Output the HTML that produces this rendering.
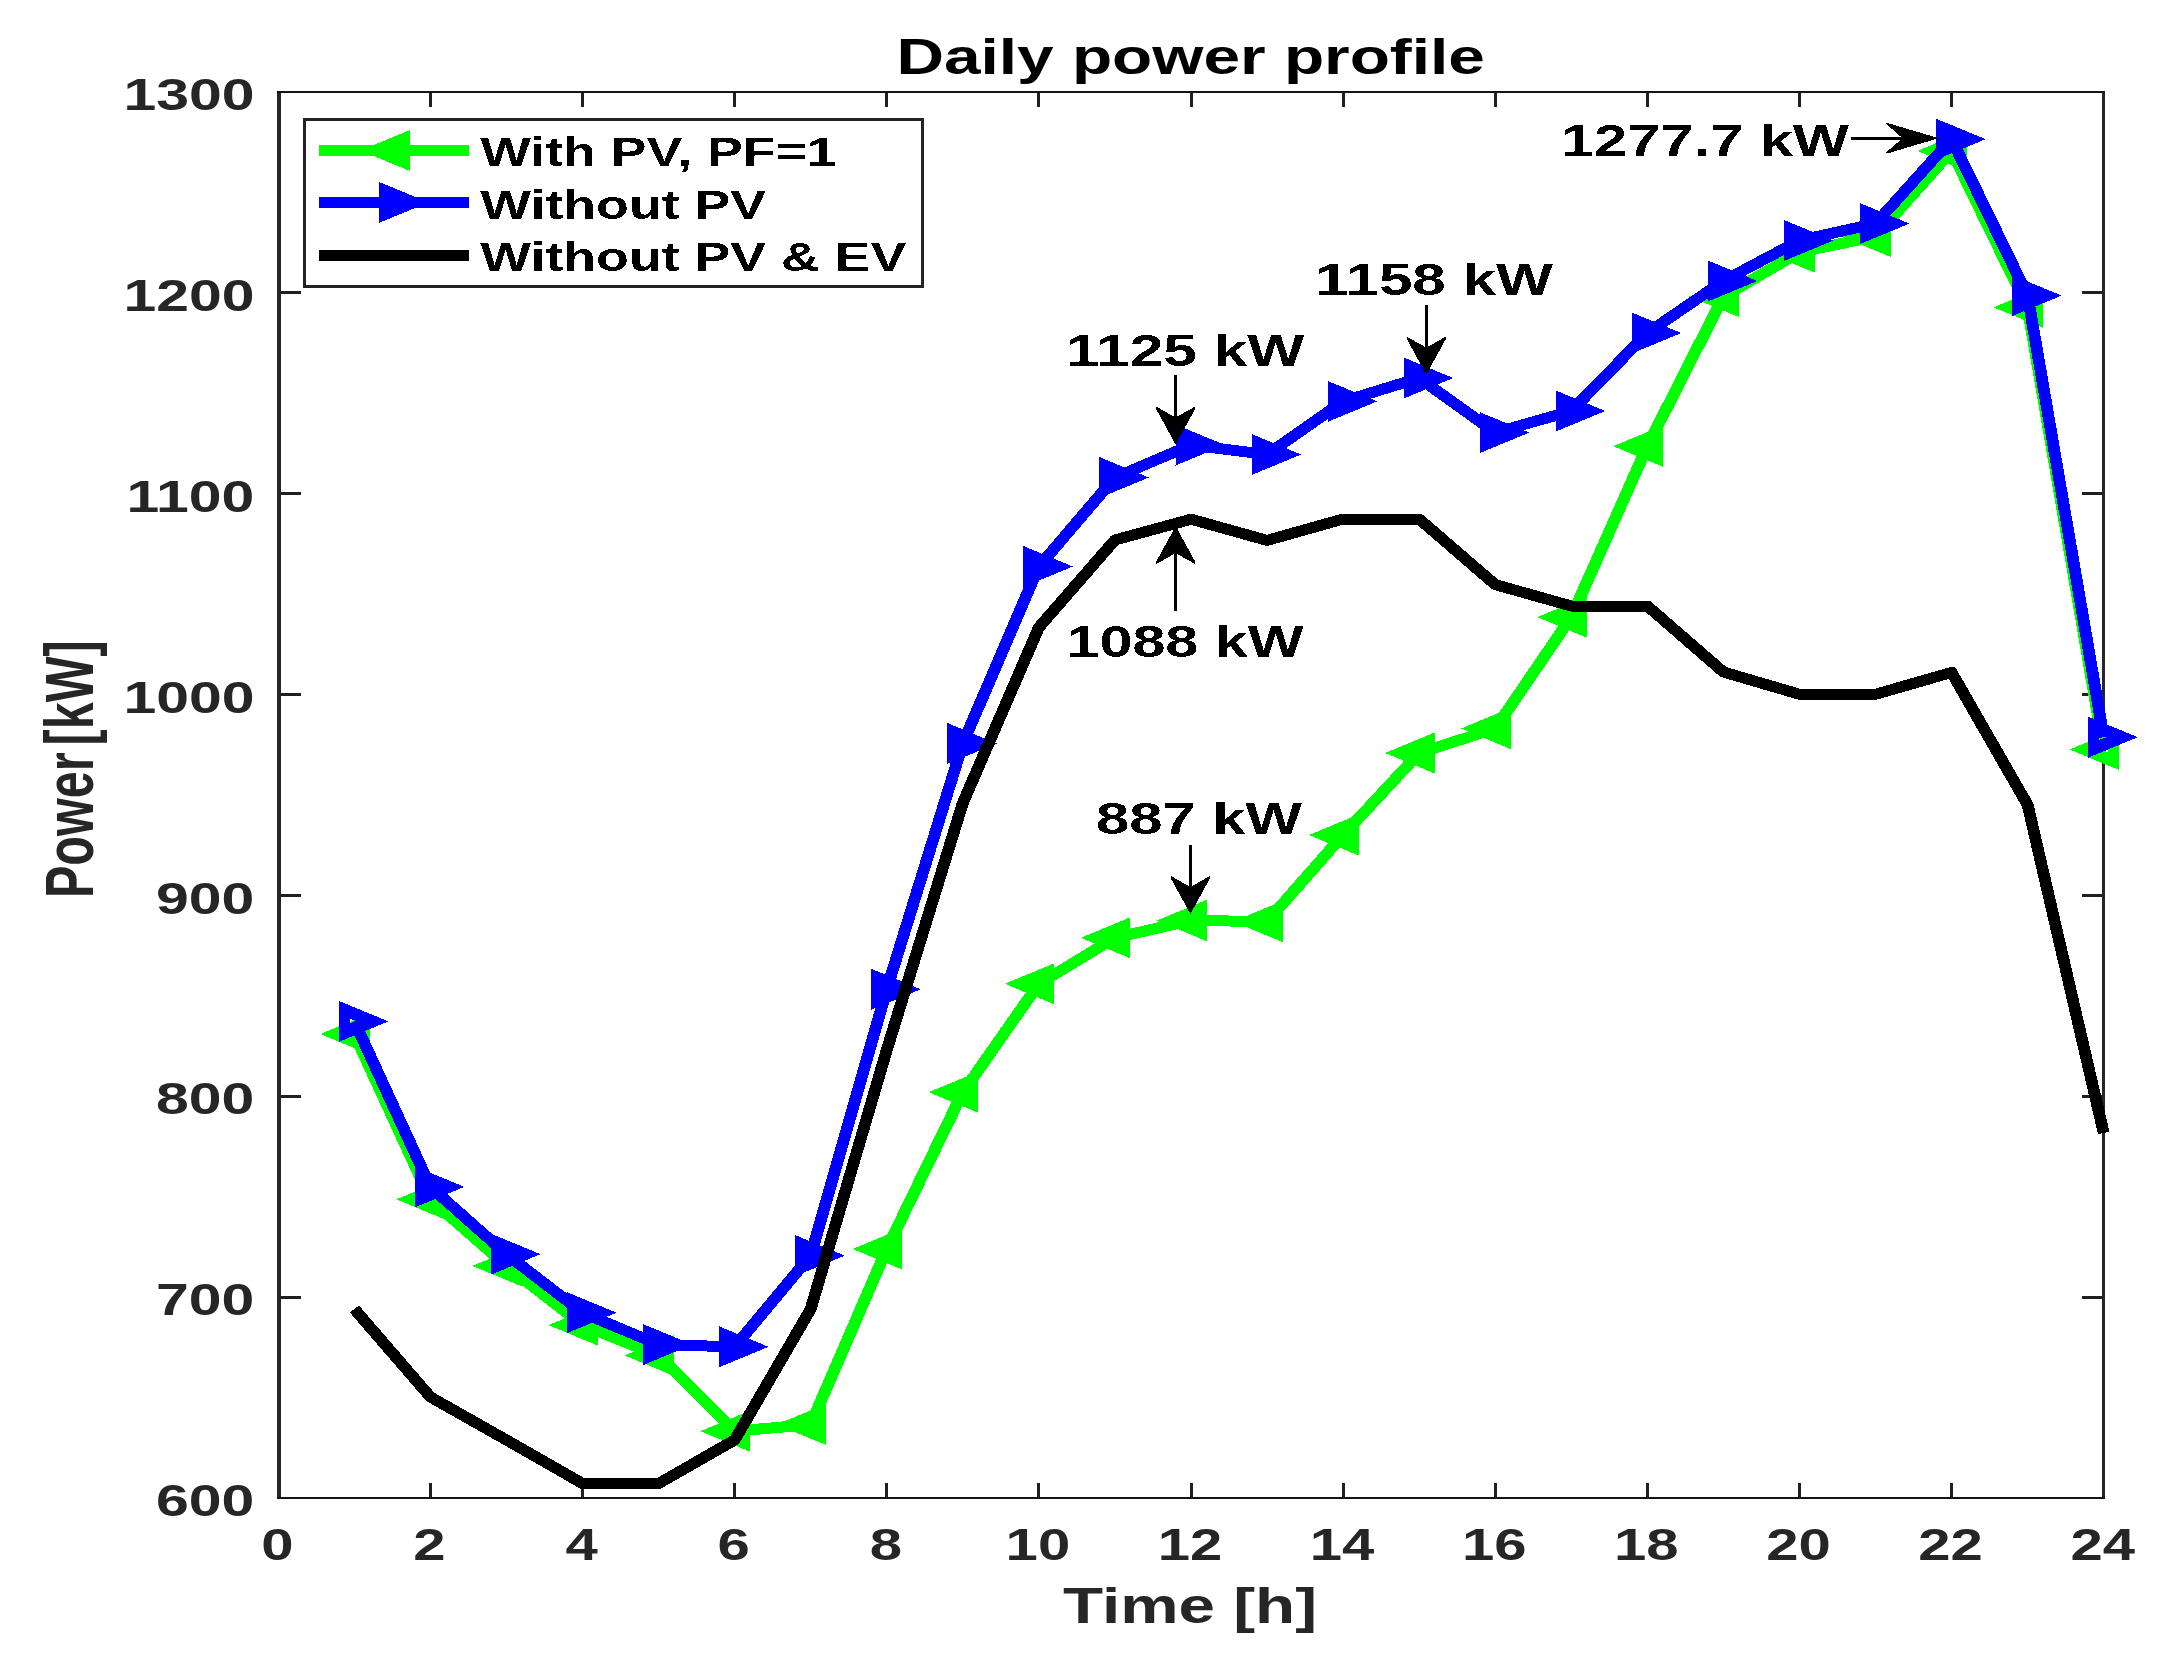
<!DOCTYPE html>
<html lang="en"><head><meta charset="utf-8"><title>Daily power profile</title>
<style>html,body{margin:0;padding:0;background:#fff}svg{display:block}</style></head>
<body>
<svg width="2173" height="1665" viewBox="0 0 2173 1665">
<defs><filter id="hard" x="-5%" y="-20%" width="110%" height="140%"><feComponentTransfer><feFuncA type="discrete" tableValues="0 1"/></feComponentTransfer></filter></defs>
<rect width="2173" height="1665" fill="#fff"/>
<g shape-rendering="crispEdges">
<rect x="277" y="91" width="4" height="1408" fill="#262626"/>
<rect x="2102" y="91" width="3" height="1408" fill="#262626"/>
<rect x="277" y="91" width="1828" height="2" fill="#141414"/>
<rect x="277" y="1497" width="1828" height="2" fill="#141414"/>
<rect x="429" y="1483" width="3" height="14" fill="#202020"/>
<rect x="429" y="93" width="3" height="14" fill="#202020"/>
<rect x="581" y="1483" width="3" height="14" fill="#202020"/>
<rect x="581" y="93" width="3" height="14" fill="#202020"/>
<rect x="733" y="1483" width="3" height="14" fill="#202020"/>
<rect x="733" y="93" width="3" height="14" fill="#202020"/>
<rect x="885" y="1483" width="3" height="14" fill="#202020"/>
<rect x="885" y="93" width="3" height="14" fill="#202020"/>
<rect x="1037" y="1483" width="3" height="14" fill="#202020"/>
<rect x="1037" y="93" width="3" height="14" fill="#202020"/>
<rect x="1190" y="1483" width="3" height="14" fill="#202020"/>
<rect x="1190" y="93" width="3" height="14" fill="#202020"/>
<rect x="1342" y="1483" width="3" height="14" fill="#202020"/>
<rect x="1342" y="93" width="3" height="14" fill="#202020"/>
<rect x="1494" y="1483" width="3" height="14" fill="#202020"/>
<rect x="1494" y="93" width="3" height="14" fill="#202020"/>
<rect x="1646" y="1483" width="3" height="14" fill="#202020"/>
<rect x="1646" y="93" width="3" height="14" fill="#202020"/>
<rect x="1798" y="1483" width="3" height="14" fill="#202020"/>
<rect x="1798" y="93" width="3" height="14" fill="#202020"/>
<rect x="1950" y="1483" width="3" height="14" fill="#202020"/>
<rect x="1950" y="93" width="3" height="14" fill="#202020"/>
<rect x="281" y="1296" width="20" height="3" fill="#202020"/>
<rect x="2082" y="1296" width="20" height="3" fill="#202020"/>
<rect x="281" y="1095" width="20" height="3" fill="#202020"/>
<rect x="2082" y="1095" width="20" height="3" fill="#202020"/>
<rect x="281" y="894" width="20" height="3" fill="#202020"/>
<rect x="2082" y="894" width="20" height="3" fill="#202020"/>
<rect x="281" y="693" width="20" height="3" fill="#202020"/>
<rect x="2082" y="693" width="20" height="3" fill="#202020"/>
<rect x="281" y="492" width="20" height="3" fill="#202020"/>
<rect x="2082" y="492" width="20" height="3" fill="#202020"/>
<rect x="281" y="291" width="20" height="3" fill="#202020"/>
<rect x="2082" y="291" width="20" height="3" fill="#202020"/>
</g>
<text transform="translate(261.16,1559.80) scale(1.2900,1)" font-family="Liberation Sans, Arial, Helvetica, sans-serif" font-weight="bold" font-size="45.0" fill="#262626">0</text>
<text transform="translate(413.28,1559.80) scale(1.2900,1)" font-family="Liberation Sans, Arial, Helvetica, sans-serif" font-weight="bold" font-size="45.0" fill="#262626">2</text>
<text transform="translate(565.40,1559.80) scale(1.2900,1)" font-family="Liberation Sans, Arial, Helvetica, sans-serif" font-weight="bold" font-size="45.0" fill="#262626">4</text>
<text transform="translate(717.51,1559.80) scale(1.2900,1)" font-family="Liberation Sans, Arial, Helvetica, sans-serif" font-weight="bold" font-size="45.0" fill="#262626">6</text>
<text transform="translate(869.63,1559.80) scale(1.2900,1)" font-family="Liberation Sans, Arial, Helvetica, sans-serif" font-weight="bold" font-size="45.0" fill="#262626">8</text>
<text transform="translate(1005.61,1559.80) scale(1.2900,1)" font-family="Liberation Sans, Arial, Helvetica, sans-serif" font-weight="bold" font-size="45.0" fill="#262626">10</text>
<text transform="translate(1157.72,1559.80) scale(1.2900,1)" font-family="Liberation Sans, Arial, Helvetica, sans-serif" font-weight="bold" font-size="45.0" fill="#262626">12</text>
<text transform="translate(1309.84,1559.80) scale(1.2900,1)" font-family="Liberation Sans, Arial, Helvetica, sans-serif" font-weight="bold" font-size="45.0" fill="#262626">14</text>
<text transform="translate(1461.96,1559.80) scale(1.2900,1)" font-family="Liberation Sans, Arial, Helvetica, sans-serif" font-weight="bold" font-size="45.0" fill="#262626">16</text>
<text transform="translate(1614.07,1559.80) scale(1.2900,1)" font-family="Liberation Sans, Arial, Helvetica, sans-serif" font-weight="bold" font-size="45.0" fill="#262626">18</text>
<text transform="translate(1766.19,1559.80) scale(1.2900,1)" font-family="Liberation Sans, Arial, Helvetica, sans-serif" font-weight="bold" font-size="45.0" fill="#262626">20</text>
<text transform="translate(1918.31,1559.80) scale(1.2900,1)" font-family="Liberation Sans, Arial, Helvetica, sans-serif" font-weight="bold" font-size="45.0" fill="#262626">22</text>
<text transform="translate(2070.42,1559.80) scale(1.2900,1)" font-family="Liberation Sans, Arial, Helvetica, sans-serif" font-weight="bold" font-size="45.0" fill="#262626">24</text>
<text transform="translate(155.91,1516.10) scale(1.3100,1)" font-family="Liberation Sans, Arial, Helvetica, sans-serif" font-weight="bold" font-size="45.0" fill="#262626">600</text>
<text transform="translate(155.91,1315.29) scale(1.3100,1)" font-family="Liberation Sans, Arial, Helvetica, sans-serif" font-weight="bold" font-size="45.0" fill="#262626">700</text>
<text transform="translate(155.91,1114.47) scale(1.3100,1)" font-family="Liberation Sans, Arial, Helvetica, sans-serif" font-weight="bold" font-size="45.0" fill="#262626">800</text>
<text transform="translate(155.91,913.66) scale(1.3100,1)" font-family="Liberation Sans, Arial, Helvetica, sans-serif" font-weight="bold" font-size="45.0" fill="#262626">900</text>
<text transform="translate(123.49,712.84) scale(1.3100,1)" font-family="Liberation Sans, Arial, Helvetica, sans-serif" font-weight="bold" font-size="45.0" fill="#262626">1000</text>
<text transform="translate(126.44,512.03) scale(1.3100,1)" font-family="Liberation Sans, Arial, Helvetica, sans-serif" font-weight="bold" font-size="45.0" fill="#262626">1100</text>
<text transform="translate(123.49,311.21) scale(1.3100,1)" font-family="Liberation Sans, Arial, Helvetica, sans-serif" font-weight="bold" font-size="45.0" fill="#262626">1200</text>
<text transform="translate(123.49,110.40) scale(1.3100,1)" font-family="Liberation Sans, Arial, Helvetica, sans-serif" font-weight="bold" font-size="45.0" fill="#262626">1300</text>
<text transform="translate(896.39,73.80) scale(1.3082,1)" font-family="Liberation Sans, Arial, Helvetica, sans-serif" font-weight="bold" font-size="50.3" fill="#000">Daily power profile</text>
<text transform="translate(1063.04,1623.40) scale(1.3232,1)" font-family="Liberation Sans, Arial, Helvetica, sans-serif" font-weight="bold" font-size="49.6" fill="#262626">Time [h]</text>
<text transform="translate(93.20,898.00) scale(1.4300,1) rotate(-90)" font-family="Liberation Sans, Arial, Helvetica, sans-serif" font-weight="bold" font-size="48.50" word-spacing="-6.4" fill="#262626">Power [kW]</text>
<g shape-rendering="crispEdges">
<path fill-rule="evenodd" fill="#00ff00" d="M369.9,1013.5 L320.4,1034.0 L369.9,1054.5 Z M358.8,1031.4 L351.2,1034.0 L358.8,1036.6 Z"/>
<path fill-rule="evenodd" fill="#00ff00" d="M445.9,1178.8 L396.4,1199.3 L445.9,1219.8 Z M434.8,1196.7 L427.2,1199.3 L434.8,1201.9 Z"/>
<path fill-rule="evenodd" fill="#00ff00" d="M522.0,1245.4 L472.5,1265.9 L522.0,1286.4 Z M510.9,1263.3 L503.3,1265.9 L510.9,1268.5 Z"/>
<path fill-rule="evenodd" fill="#00ff00" d="M598.0,1304.6 L548.5,1325.1 L598.0,1345.6 Z M586.9,1322.5 L579.3,1325.1 L586.9,1327.7 Z"/>
<path fill-rule="evenodd" fill="#00ff00" d="M674.1,1334.9 L624.6,1355.4 L674.1,1375.9 Z M663.0,1352.8 L655.4,1355.4 L663.0,1358.0 Z"/>
<path fill-rule="evenodd" fill="#00ff00" d="M750.1,1410.7 L700.6,1431.2 L750.1,1451.7 Z M739.0,1428.6 L731.4,1431.2 L739.0,1433.8 Z"/>
<path fill-rule="evenodd" fill="#00ff00" d="M826.2,1404.0 L776.7,1424.5 L826.2,1445.0 Z M815.1,1421.9 L807.5,1424.5 L815.1,1427.1 Z"/>
<path fill-rule="evenodd" fill="#00ff00" d="M902.3,1228.5 L852.8,1249.0 L902.3,1269.5 Z M891.2,1246.4 L883.6,1249.0 L891.2,1251.6 Z"/>
<path fill-rule="evenodd" fill="#00ff00" d="M978.3,1071.7 L928.8,1092.2 L978.3,1112.7 Z M967.2,1089.6 L959.6,1092.2 L967.2,1094.8 Z"/>
<path fill-rule="evenodd" fill="#00ff00" d="M1054.4,963.3 L1004.9,983.8 L1054.4,1004.3 Z M1043.3,981.2 L1035.7,983.8 L1043.3,986.4 Z"/>
<path fill-rule="evenodd" fill="#00ff00" d="M1130.4,917.3 L1080.9,937.8 L1130.4,958.3 Z M1119.3,935.2 L1111.7,937.8 L1119.3,940.4 Z"/>
<path fill-rule="evenodd" fill="#00ff00" d="M1206.5,900.0 L1157.0,920.5 L1206.5,941.0 Z M1195.4,917.9 L1187.8,920.5 L1195.4,923.1 Z"/>
<path fill-rule="evenodd" fill="#00ff00" d="M1282.6,901.0 L1233.1,921.5 L1282.6,942.0 Z M1271.5,918.9 L1263.9,921.5 L1271.5,924.1 Z"/>
<path fill-rule="evenodd" fill="#00ff00" d="M1358.6,814.5 L1309.1,835.0 L1358.6,855.5 Z M1347.5,832.4 L1339.9,835.0 L1347.5,837.6 Z"/>
<path fill-rule="evenodd" fill="#00ff00" d="M1434.7,732.5 L1385.2,753.0 L1434.7,773.5 Z M1423.6,750.4 L1416.0,753.0 L1423.6,755.6 Z"/>
<path fill-rule="evenodd" fill="#00ff00" d="M1510.7,708.0 L1461.2,728.5 L1510.7,749.0 Z M1499.6,725.9 L1492.0,728.5 L1499.6,731.1 Z"/>
<path fill-rule="evenodd" fill="#00ff00" d="M1586.8,596.6 L1537.3,617.1 L1586.8,637.6 Z M1575.7,614.5 L1568.1,617.1 L1575.7,619.7 Z"/>
<path fill-rule="evenodd" fill="#00ff00" d="M1662.8,425.7 L1613.3,446.2 L1662.8,466.7 Z M1651.8,443.6 L1644.1,446.2 L1651.8,448.8 Z"/>
<path fill-rule="evenodd" fill="#00ff00" d="M1738.9,276.0 L1689.4,296.5 L1738.9,317.0 Z M1727.8,293.9 L1720.2,296.5 L1727.8,299.1 Z"/>
<path fill-rule="evenodd" fill="#00ff00" d="M1815.0,231.7 L1765.5,252.2 L1815.0,272.7 Z M1803.9,249.6 L1796.3,252.2 L1803.9,254.8 Z"/>
<path fill-rule="evenodd" fill="#00ff00" d="M1891.0,216.0 L1841.5,236.5 L1891.0,257.0 Z M1879.9,233.9 L1872.3,236.5 L1879.9,239.1 Z"/>
<path fill-rule="evenodd" fill="#00ff00" d="M1967.1,130.4 L1917.6,150.9 L1967.1,171.4 Z M1956.0,148.3 L1948.4,150.9 L1956.0,153.5 Z"/>
<path fill-rule="evenodd" fill="#00ff00" d="M2043.1,286.8 L1993.6,307.3 L2043.1,327.8 Z M2032.0,304.7 L2024.4,307.3 L2032.0,309.9 Z"/>
<path fill-rule="evenodd" fill="#00ff00" d="M2119.2,729.0 L2069.7,749.5 L2119.2,770.0 Z M2108.1,746.9 L2100.5,749.5 L2108.1,752.1 Z"/>
<polyline transform="scale(1.075,1)" points="329.64,1034.0 400.39,1199.3 471.14,1265.9 541.89,1325.1 612.64,1355.4 683.40,1431.2 754.15,1424.5 824.90,1249.0 895.65,1092.2 966.40,983.8 1037.16,937.8 1107.91,920.5 1178.66,921.5 1249.41,835.0 1320.16,753.0 1390.91,728.5 1461.67,617.1 1532.42,446.2 1603.17,296.5 1673.92,252.2 1744.67,236.5 1815.43,150.9 1886.18,307.3 1956.93,749.5" fill="none" stroke="#00ff00" stroke-width="11" stroke-linejoin="miter" stroke-linecap="butt"/>
<path fill-rule="evenodd" fill="#0000ff" d="M338.9,1000.9 L388.4,1021.4 L338.9,1041.9 Z M350.0,1018.8 L357.6,1021.4 L350.0,1024.0 Z"/>
<path fill-rule="evenodd" fill="#0000ff" d="M414.9,1166.4 L464.4,1186.9 L414.9,1207.4 Z M426.0,1184.3 L433.6,1186.9 L426.0,1189.5 Z"/>
<path fill-rule="evenodd" fill="#0000ff" d="M491.0,1233.7 L540.5,1254.2 L491.0,1274.7 Z M502.1,1251.6 L509.7,1254.2 L502.1,1256.8 Z"/>
<path fill-rule="evenodd" fill="#0000ff" d="M567.0,1292.2 L616.5,1312.7 L567.0,1333.2 Z M578.1,1310.1 L585.7,1312.7 L578.1,1315.3 Z"/>
<path fill-rule="evenodd" fill="#0000ff" d="M643.1,1324.1 L692.6,1344.6 L643.1,1365.1 Z M654.2,1342.0 L661.8,1344.6 L654.2,1347.2 Z"/>
<path fill-rule="evenodd" fill="#0000ff" d="M719.1,1326.3 L768.6,1346.8 L719.1,1367.3 Z M730.2,1344.2 L737.9,1346.8 L730.2,1349.4 Z"/>
<path fill-rule="evenodd" fill="#0000ff" d="M795.2,1235.1 L844.7,1255.6 L795.2,1276.1 Z M806.3,1253.0 L813.9,1255.6 L806.3,1258.2 Z"/>
<path fill-rule="evenodd" fill="#0000ff" d="M871.3,968.8 L920.8,989.3 L871.3,1009.8 Z M882.4,986.7 L890.0,989.3 L882.4,991.9 Z"/>
<path fill-rule="evenodd" fill="#0000ff" d="M947.3,723.0 L996.8,743.5 L947.3,764.0 Z M958.4,740.9 L966.0,743.5 L958.4,746.1 Z"/>
<path fill-rule="evenodd" fill="#0000ff" d="M1023.4,546.0 L1072.9,566.5 L1023.4,587.0 Z M1034.5,563.9 L1042.1,566.5 L1034.5,569.1 Z"/>
<path fill-rule="evenodd" fill="#0000ff" d="M1099.4,457.0 L1148.9,477.5 L1099.4,498.0 Z M1110.5,474.9 L1118.1,477.5 L1110.5,480.1 Z"/>
<path fill-rule="evenodd" fill="#0000ff" d="M1175.5,424.5 L1225.0,445.0 L1175.5,465.5 Z M1186.6,442.4 L1194.2,445.0 L1186.6,447.6 Z"/>
<path fill-rule="evenodd" fill="#0000ff" d="M1251.6,434.0 L1301.1,454.5 L1251.6,475.0 Z M1262.7,451.9 L1270.3,454.5 L1262.7,457.1 Z"/>
<path fill-rule="evenodd" fill="#0000ff" d="M1327.6,380.9 L1377.1,401.4 L1327.6,421.9 Z M1338.7,398.8 L1346.3,401.4 L1338.7,404.0 Z"/>
<path fill-rule="evenodd" fill="#0000ff" d="M1403.7,357.5 L1453.2,378.0 L1403.7,398.5 Z M1414.8,375.4 L1422.4,378.0 L1414.8,380.6 Z"/>
<path fill-rule="evenodd" fill="#0000ff" d="M1479.7,412.1 L1529.2,432.6 L1479.7,453.1 Z M1490.8,430.0 L1498.4,432.6 L1490.8,435.2 Z"/>
<path fill-rule="evenodd" fill="#0000ff" d="M1555.8,390.5 L1605.3,411.0 L1555.8,431.5 Z M1566.9,408.4 L1574.5,411.0 L1566.9,413.6 Z"/>
<path fill-rule="evenodd" fill="#0000ff" d="M1631.8,312.5 L1681.3,333.0 L1631.8,353.5 Z M1642.9,330.4 L1650.5,333.0 L1642.9,335.6 Z"/>
<path fill-rule="evenodd" fill="#0000ff" d="M1707.9,260.5 L1757.4,281.0 L1707.9,301.5 Z M1719.0,278.4 L1726.6,281.0 L1719.0,283.6 Z"/>
<path fill-rule="evenodd" fill="#0000ff" d="M1784.0,220.0 L1833.5,240.5 L1784.0,261.0 Z M1795.1,237.9 L1802.7,240.5 L1795.1,243.1 Z"/>
<path fill-rule="evenodd" fill="#0000ff" d="M1860.0,203.1 L1909.5,223.6 L1860.0,244.1 Z M1871.1,221.0 L1878.7,223.6 L1871.1,226.2 Z"/>
<path fill-rule="evenodd" fill="#0000ff" d="M1936.1,118.7 L1985.6,139.2 L1936.1,159.7 Z M1947.2,136.6 L1954.8,139.2 L1947.2,141.8 Z"/>
<path fill-rule="evenodd" fill="#0000ff" d="M2012.1,275.1 L2061.6,295.6 L2012.1,316.1 Z M2023.2,293.0 L2030.8,295.6 L2023.2,298.2 Z"/>
<path fill-rule="evenodd" fill="#0000ff" d="M2088.2,716.7 L2137.7,737.2 L2088.2,757.7 Z M2099.3,734.6 L2106.9,737.2 L2099.3,739.8 Z"/>
<polyline transform="scale(1.075,1)" points="329.64,1021.4 400.39,1186.9 471.14,1254.2 541.89,1312.7 612.64,1344.6 683.40,1346.8 754.15,1255.6 824.90,989.3 895.65,743.5 966.40,566.5 1037.16,477.5 1107.91,445.0 1178.66,454.5 1249.41,401.4 1320.16,378.0 1390.91,432.6 1461.67,411.0 1532.42,333.0 1603.17,281.0 1673.92,240.5 1744.67,223.6 1815.43,139.2 1886.18,295.6 1956.93,737.2" fill="none" stroke="#0000ff" stroke-width="11" stroke-linejoin="miter" stroke-linecap="butt"/>
<polyline transform="scale(1.075,1)" points="329.64,1309.0 400.39,1397.0 471.14,1440.0 541.89,1483.5 612.64,1483.5 683.40,1440.0 754.15,1309.0 824.90,1050.0 895.65,803.0 966.40,627.4 1037.16,540.0 1107.91,519.2 1178.66,540.4 1249.41,519.0 1320.16,519.0 1390.91,584.6 1461.67,606.0 1532.42,606.0 1603.17,672.0 1673.92,694.3 1744.67,694.3 1815.43,672.4 1886.18,804.9 1956.93,1133.0" fill="none" stroke="#000" stroke-width="11" stroke-linejoin="round" stroke-linecap="butt"/>
</g>
<rect x="304.4" y="119.5" width="617.7" height="166.5" fill="#fff"/>
<g fill="#232323" shape-rendering="crispEdges">
<rect x="303" y="118" width="3" height="170"/>
<rect x="921" y="118" width="3" height="170"/>
<rect x="303" y="118" width="621" height="3"/>
<rect x="303" y="285" width="621" height="3"/>
</g>
<g shape-rendering="crispEdges">
<path fill-rule="evenodd" fill="#00ff00" d="M410.0,130.0 L360.5,150.5 L410.0,171.0 Z M398.9,147.9 L391.3,150.5 L398.9,153.1 Z"/>
<rect x="318.7" y="145.0" width="150.2" height="11" fill="#00ff00"/>
<path fill-rule="evenodd" fill="#0000ff" d="M379.0,181.9 L428.5,202.4 L379.0,222.9 Z M390.1,199.8 L397.7,202.4 L390.1,205.0 Z"/>
<rect x="318.7" y="196.9" width="150.2" height="11" fill="#0000ff"/>
<rect x="318.7" y="249.9" width="150.2" height="11" fill="#000"/>
</g>
<g filter="url(#hard)">
<text transform="translate(480.30,166.30) scale(1.3193,1)" font-family="Liberation Sans, Arial, Helvetica, sans-serif" font-weight="bold" font-size="40.6" fill="#000">With PV, PF=1</text>
<text transform="translate(480.30,218.90) scale(1.3227,1)" font-family="Liberation Sans, Arial, Helvetica, sans-serif" font-weight="bold" font-size="40.6" fill="#000">Without PV</text>
<text transform="translate(480.30,270.80) scale(1.3228,1)" font-family="Liberation Sans, Arial, Helvetica, sans-serif" font-weight="bold" font-size="40.6" fill="#000">Without PV &amp; EV</text>
</g>
<g filter="url(#hard)">
<text transform="translate(1560.72,155.70) scale(1.3254,1)" font-family="Liberation Sans, Arial, Helvetica, sans-serif" font-weight="bold" font-size="45.0" fill="#000">1277.7 kW</text>
<text transform="translate(1315.29,295.20) scale(1.3373,1)" font-family="Liberation Sans, Arial, Helvetica, sans-serif" font-weight="bold" font-size="45.0" fill="#000">1158 kW</text>
<text transform="translate(1065.77,366.10) scale(1.3436,1)" font-family="Liberation Sans, Arial, Helvetica, sans-serif" font-weight="bold" font-size="45.0" fill="#000">1125 kW</text>
<text transform="translate(1066.44,657.20) scale(1.3181,1)" font-family="Liberation Sans, Arial, Helvetica, sans-serif" font-weight="bold" font-size="45.0" fill="#000">1088 kW</text>
<text transform="translate(1095.91,833.80) scale(1.3281,1)" font-family="Liberation Sans, Arial, Helvetica, sans-serif" font-weight="bold" font-size="45.0" fill="#000">887 kW</text>
</g>
<g shape-rendering="crispEdges">
<rect x="1174.10" y="374.90" width="3.0" height="42.60" fill="#000"/><path d="M1175.6,444.5 L1156.1,409.0 L1156.1,406.5 L1175.6,417.5 L1195.1,406.5 L1195.1,409.0 Z" fill="#000"/>
<rect x="1424.80" y="305.20" width="3.0" height="42.40" fill="#000"/><path d="M1426.3,374.6 L1406.8,339.1 L1406.8,336.6 L1426.3,347.6 L1445.8,336.6 L1445.8,339.1 Z" fill="#000"/>
<rect x="1174.20" y="553.10" width="3.0" height="57.60" fill="#000"/><path d="M1175.7,526.1 L1156.2,561.6 L1156.2,564.1 L1175.7,553.1 L1195.2,564.1 L1195.2,561.6 Z" fill="#000"/>
<rect x="1188.90" y="845.30" width="3.0" height="41.70" fill="#000"/><path d="M1190.4,914.0 L1170.9,878.5 L1170.9,876.0 L1190.4,887.0 L1209.9,876.0 L1209.9,878.5 Z" fill="#000"/>
<rect x="1850.80" y="136.90" width="51.80" height="2.6" fill="#000"/><path d="M1938.6,138.2 L1888.7,123.3 L1885.3,123.3 L1902.6,138.2 L1885.3,153.1 L1888.7,153.1 Z" fill="#000"/>
</g>
</svg>
</body></html>
